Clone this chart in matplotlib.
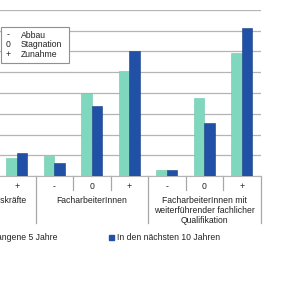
import numpy as np
import matplotlib.pyplot as plt
from matplotlib.patches import Patch, Rectangle

plt.rcParams['font.family'] = ['Liberation Sans', 'DejaVu Sans']

# data (first two bars of the left group lie outside the cropped picture)
groups = ['Angelernte Arbeitskräfte', 'FacharbeiterInnen',
          'FacharbeiterInnen mit\nweiterführender fachlicher\nQualifikation']
sub = ['-', '0', '+']
past5 = [np.nan, np.nan, 4.3, 4.8, 20.0, 25.4, 1.4, 18.8, 29.7]
next10 = [np.nan, np.nan, 5.6, 3.1, 16.9, 30.0, 1.4, 12.8, 35.7]
series = ['Vergangene 5 Jahre', 'In den nächsten 10 Jahren']

teal = '#7fd8bd'
blue = '#2151a6'
grey = '#b4b4b4'
txt = '#222222'

fig = plt.figure(figsize=(3, 3), dpi=100)
ax = fig.add_axes([-77 / 300, 124 / 300, 337.5 / 300, 166 / 300])

x = np.arange(len(past5))
w = 0.28
ax.bar(x - w / 2, past5, w, color=teal, edgecolor='#6cc7ab', linewidth=0.4, zorder=3)
ax.bar(x + w / 2, next10, w, color=blue, edgecolor='#183d85', linewidth=0.4, zorder=3)

ax.set_xlim(-0.5, 8.5)
ax.set_ylim(0, 40)
ax.set_yticks(np.arange(0, 41, 5))
ax.yaxis.grid(True, color=grey, linewidth=0.9)
ax.set_axisbelow(True)
for s in ['left', 'right', 'top']:
    ax.spines[s].set_visible(False)
ax.spines['bottom'].set_color(grey)
ax.tick_params(left=False, labelleft=False, bottom=False)
ax.set_xticks(x)
ax.set_xticklabels(sub * 3, fontsize=6.2, color=txt)
ax.tick_params(axis='x', pad=1)

# separators under the axis
tr = ax.get_xaxis_transform()
for b in np.arange(-0.5, 9, 1):
    low = -0.283 if (b + 0.5) % 3 == 0 else -0.084
    ax.plot([b, b], [0, low], color='#a8a8a8', lw=0.9, transform=tr, clip_on=False)

for i, g in enumerate(groups):
    ax.text(3 * i + 1, -0.12, g, transform=tr, ha='center', va='top',
            fontsize=6.2, color=txt, linespacing=1.15)

# key box
fig.patches.append(Rectangle((0.5 / 300, 1 - 63 / 300), 68 / 300, 36 / 300,
                             transform=fig.transFigure, facecolor='white',
                             edgecolor='#909090', lw=0.8, zorder=5))
for k, (s, lab) in enumerate(zip(sub, ['Abbau', 'Stagnation', 'Zunahme'])):
    yy = 1 - (35 + 9.7 * k) / 300
    fig.text(8.5 / 300, yy, s, ha='center', va='center', fontsize=6.2, color=txt, zorder=6)
    fig.text(21 / 300, yy, lab, ha='left', va='center', fontsize=6.2, color=txt, zorder=6)

handles = [Patch(color=teal), Patch(color=blue)]
fig.legend(handles, series, loc='center left', bbox_to_anchor=(-37 / 300, 1 - 238 / 300),
           ncol=2, frameon=False, fontsize=6.2, handlelength=0.6, handleheight=0.6,
           handletextpad=0.35, columnspacing=6.0, labelcolor=txt)

fig.savefig('out.png', dpi=100)
